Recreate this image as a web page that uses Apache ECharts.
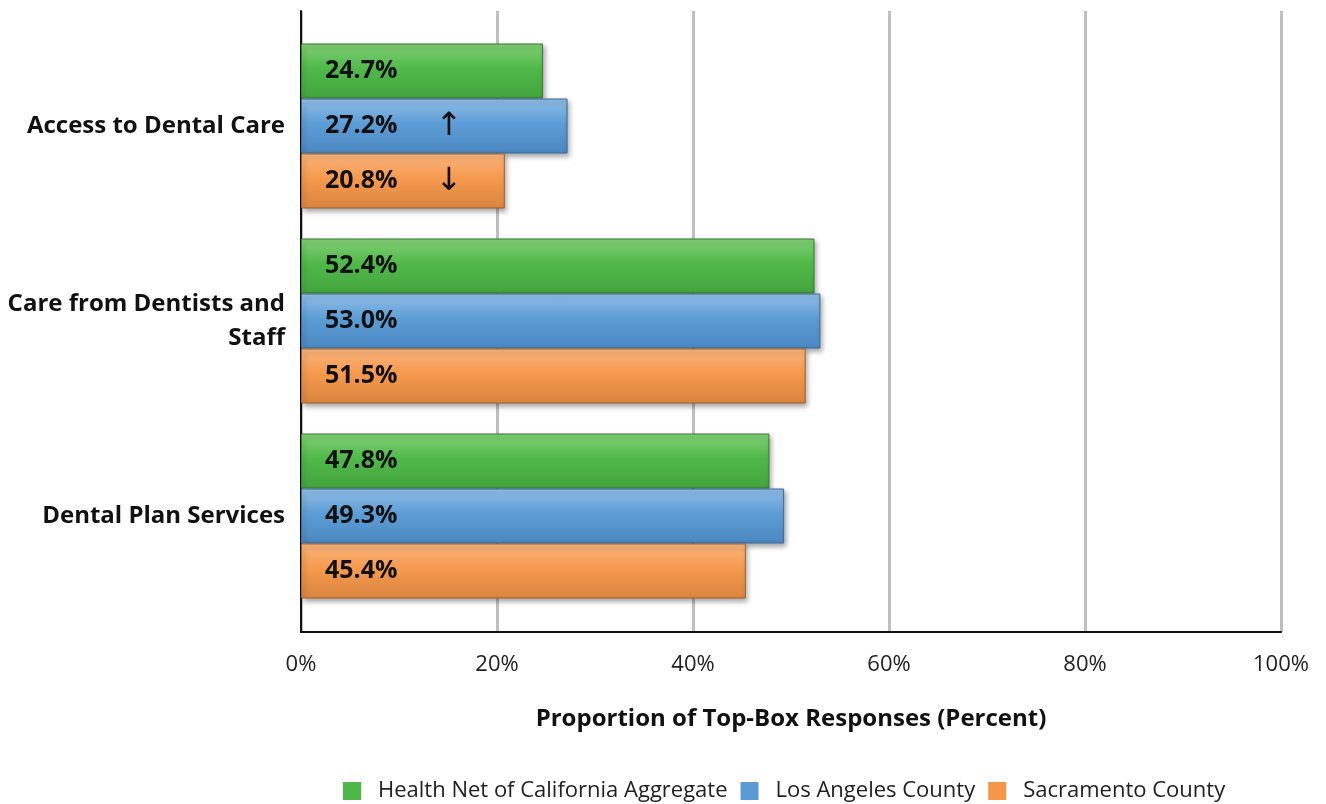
<!DOCTYPE html>
<html>
<head>
<meta charset="utf-8">
<script src="https://cdn.jsdelivr.net/npm/echarts@6/dist/echarts.min.js"></script>
<style>
html,body{margin:0;padding:0;background:#fff;}
#main{width:1326px;height:804px;}
</style>
</head>
<body>
<div id="main"></div>
<script>
const categories = ['Access to Dental Care', 'Care from Dentists and\nStaff', 'Dental Plan Services'];
const seriesNames = ['Health Net of California Aggregate', 'Los Angeles County', 'Sacramento County'];
const healthNetValues = [24.7, 52.4, 47.8];
const losAngelesValues = [27.2, 53.0, 49.3];
const sacramentoValues = [20.8, 51.5, 45.4];
const losAngelesArrows = ['↑', '', ''];
const sacramentoArrows = ['↓', '', ''];
const healthNetArrows = ['', '', ''];
const xTicks = [0, 20, 40, 60, 80, 100];

const FONT = '"Open Sans", "Noto Sans", sans-serif';

function grad(top, mid, bottom) {
  return new echarts.graphic.LinearGradient(0, 0, 0, 1, [
    {offset: 0, color: top},
    {offset: 0.45, color: mid},
    {offset: 1, color: bottom}
  ]);
}

const styles = [
  {fill: grad('#84d077', '#50b94a', '#43a43d'), border: '#3a7a34', legend: '#4cb848'},
  {fill: grad('#92bfe8', '#5d9dd6', '#4b87c0'), border: '#3b6b98', legend: '#5b9bd5'},
  {fill: grad('#fab47e', '#f69a4e', '#d9843f'), border: '#9e612f', legend: '#f79646'}
];
const valueSets = [healthNetValues, losAngelesValues, sacramentoValues];
const arrowSets = [healthNetArrows, losAngelesArrows, sacramentoArrows];

const series = seriesNames.map((name, i) => ({
  name: name,
  type: 'bar',
  xAxisIndex: 1,
  yAxisIndex: 1,
  barWidth: 55,
  barGap: '0%',
  data: valueSets[i],
  itemStyle: {
    color: styles[i].fill,
    borderColor: styles[i].border,
    borderWidth: 1,
    shadowBlur: 5,
    shadowOffsetX: 2,
    shadowOffsetY: 3,
    shadowColor: 'rgba(0,0,0,0.35)'
  },
  label: {
    show: true,
    position: 'insideLeft',
    distance: 24,
    formatter: p => {
      const a = arrowSets[i][p.dataIndex];
      return '{v|' + p.value.toFixed(1) + '%}' + (a ? '{a|' + a + '}' : '');
    },
    rich: {
      v: {fontFamily: FONT, fontWeight: 'bold', fontSize: 25, color: '#111'},
      a: {fontFamily: '"Noto Sans", "DejaVu Sans", sans-serif', fontSize: 32, color: '#111', padding: [0, 0, 0, 38]}
    }
  }
}));

const chart = echarts.init(document.getElementById('main'));
chart.setOption({
  animation: false,
  backgroundColor: '#fff',
  legend: {
    bottom: 2,
    left: 343,
    padding: 0,
    itemWidth: 18,
    itemHeight: 18,
    itemGap: 13,
    icon: 'rect',
    data: seriesNames.map((n, i) => ({name: n, itemStyle: {color: styles[i].legend, borderWidth: 0, shadowBlur: 0}})),
    textStyle: {fontFamily: FONT, fontSize: 22, color: '#222', padding: [0, 0, 0, 12]}
  },
  grid: [
    {left: 301, right: 45, top: 11, bottom: 172},
    {left: 301, right: 45, top: 28.5, height: 585}
  ],
  xAxis: [
    {
      gridIndex: 0, type: 'value', min: 0, max: 100, interval: 20,
      name: 'Proportion of Top-Box Responses (Percent)',
      nameLocation: 'middle', nameGap: 75,
      nameTextStyle: {fontFamily: FONT, fontWeight: 'bold', fontSize: 24, color: '#111'},
      axisLine: {show: true, lineStyle: {color: '#111', width: 2}},
      axisTick: {show: false},
      axisLabel: {fontFamily: FONT, fontSize: 22, color: '#222', margin: 22, formatter: v => v + '%'},
      splitLine: {show: true, lineStyle: {color: '#bfbfbf', width: 3}}
    },
    {gridIndex: 1, type: 'value', min: 0, max: 100, show: false}
  ],
  yAxis: [
    {
      gridIndex: 0, type: 'value', min: 0, max: 1,
      axisLine: {show: true, lineStyle: {color: '#111', width: 2}},
      axisTick: {show: false}, axisLabel: {show: false}, splitLine: {show: false}
    },
    {
      gridIndex: 1, type: 'category', inverse: true, data: categories,
      axisLine: {show: false}, axisTick: {show: false}, splitLine: {show: false},
      axisLabel: {fontFamily: FONT, fontWeight: 'bold', fontSize: 24, color: '#111', margin: 16, lineHeight: 34, align: 'right'}
    }
  ],
  series: series
});
</script>
</body>
</html>
